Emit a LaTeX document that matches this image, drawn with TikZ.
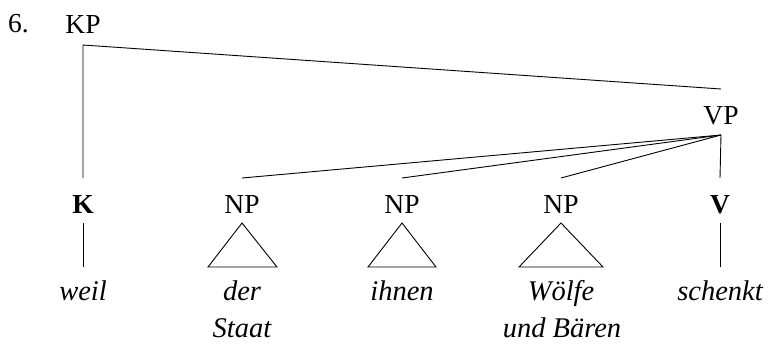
\documentclass[tikz,border=0pt]{standalone}
\usepackage{fontspec}
\setmainfont{Liberation Serif}
\begin{document}
\begin{tikzpicture}[x=1pt,y=-1pt,
  lbl/.style={inner sep=0pt, anchor=base, font=\fontsize{27.5pt}{33pt}\selectfont},
  wrd/.style={lbl, font=\fontsize{28.5pt}{33pt}\selectfont\itshape},
  hd/.style={lbl, font=\fontsize{27.5pt}{33pt}\selectfont\bfseries},
  edge/.style={line width=0.9pt, line join=miter}]
\useasboundingbox (0,0) rectangle (769,348);
\node[lbl, anchor=base west] (num) at (8,32) {6.};
\node[lbl] (KP) at (83,33) {KP};
\node[lbl] (VP) at (721,124) {VP};
\node[hd] (K) at (83,213) {K};
\node[lbl] (NPa) at (242,213) {NP};
\node[lbl] (NPb) at (402,213) {NP};
\node[lbl] (NPc) at (561,213) {NP};
\node[hd] (V) at (720,213) {V};
\node[wrd] (weil) at (83,300) {weil};
\node[wrd] (derA) at (242,300) {der};
\node[wrd] (derB) at (242,337) {Staat};
\node[wrd] (ihnen) at (402,300) {ihnen};
\node[wrd] (woA) at (561,300) {Wölfe};
\node[wrd] (woB) at (562,337) {und Bären};
\node[wrd] (schenkt) at (720,300) {schenkt};
% KP
\draw[edge] ([yshift=35pt]K.base) -- ([yshift=-12pt]KP.base) -- ([yshift=35pt]VP.base);
% VP
\draw[edge] ([yshift=-11pt]VP.base) -- ([yshift=35pt]NPa.base);
\draw[edge] ([yshift=-11pt]VP.base) -- ([yshift=35pt]NPb.base);
\draw[edge] ([yshift=-11pt]VP.base) -- ([yshift=35pt]NPc.base);
\draw[edge] ([yshift=-11pt]VP.base) -- ([yshift=35pt]V.base);
% heads
\draw[edge] ([yshift=-10pt]K.base) -- ([yshift=33pt]weil.base);
\draw[edge] ([yshift=-10pt]V.base) -- ([yshift=33pt]schenkt.base);
% triangles
\draw[edge] ([yshift=-10pt]NPa.base) -- ([xshift=-34pt,yshift=33pt]derA.base) -- ([xshift=35pt,yshift=33pt]derA.base) -- cycle;
\draw[edge] ([yshift=-10pt]NPb.base) -- ([xshift=-34pt,yshift=33pt]ihnen.base) -- ([xshift=34pt,yshift=33pt]ihnen.base) -- cycle;
\draw[edge] ([yshift=-10pt]NPc.base) -- ([xshift=-42pt,yshift=33pt]woA.base) -- ([xshift=42pt,yshift=33pt]woA.base) -- cycle;
\end{tikzpicture}
\end{document}
